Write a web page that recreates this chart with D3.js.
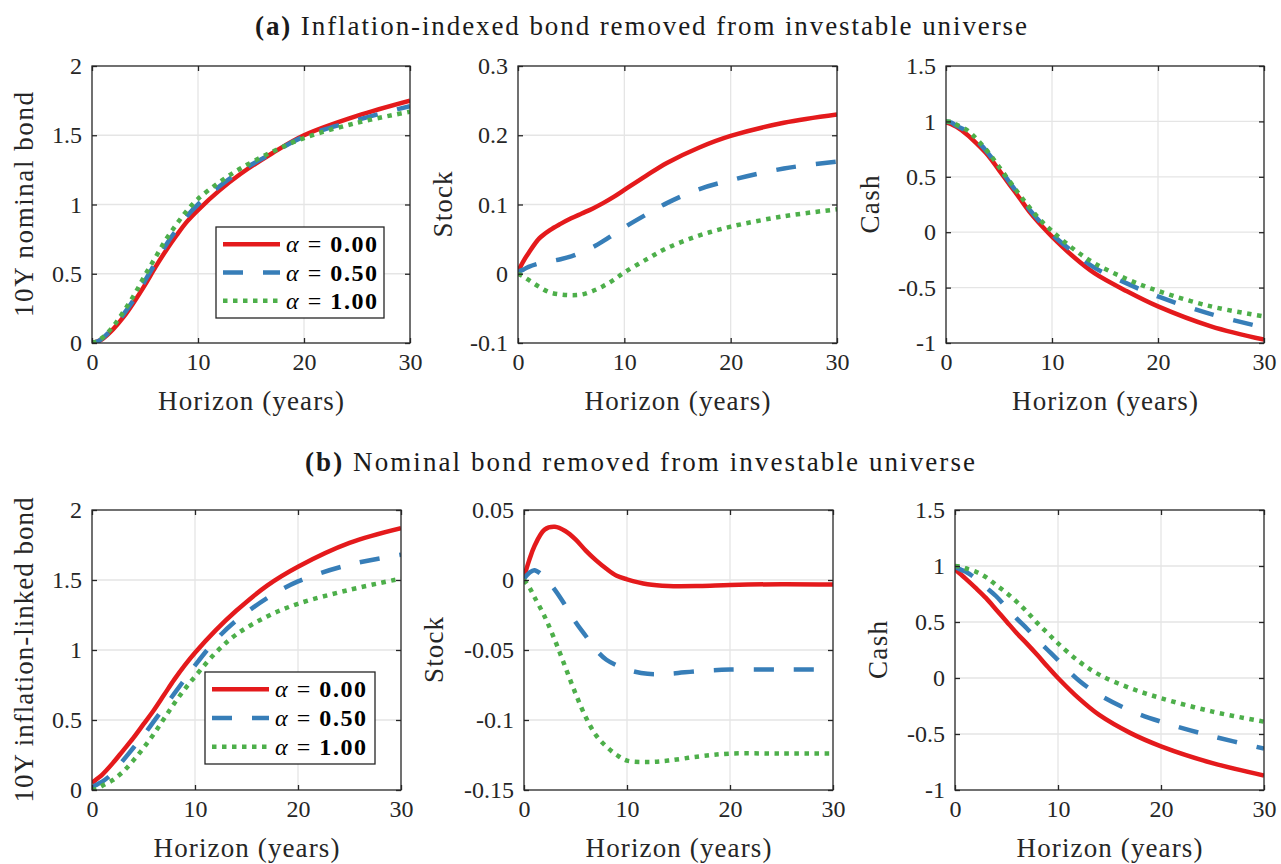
<!DOCTYPE html>
<html><head><meta charset="utf-8">
<script src="https://cdn.jsdelivr.net/npm/d3@7"></script>
<style>
html,body{margin:0;padding:0;background:#fff;}
svg{display:block;font-family:"Liberation Serif","Times New Roman",serif;}
</style></head>
<body><svg id="chart" width="1281" height="864"></svg>
<script>
// ---------- data ----------
const horizon = [0,0.5,1,2,3,4,5,6,7,8,9,10,12,14,17,20,25,30];
const alphaLabels = ["0.00","0.50","1.00"];
const xTicks = [0,10,20,30];

// (a) inflation-indexed bond removed
const aBondRed   = [0,0.01,0.03,0.10,0.19,0.30,0.42,0.55,0.67,0.78,0.88,0.96,1.10,1.22,1.37,1.50,1.64,1.75];
const aBondBlue  = [0,0.01,0.035,0.11,0.21,0.32,0.45,0.58,0.71,0.82,0.92,1.00,1.13,1.24,1.37,1.49,1.61,1.71];
const aBondGreen = [0,0.012,0.04,0.12,0.23,0.35,0.49,0.62,0.75,0.86,0.96,1.04,1.16,1.26,1.38,1.48,1.59,1.67];

const aStockRed   = [0.003,0.018,0.030,0.051,0.063,0.072,0.080,0.087,0.094,0.102,0.111,0.121,0.141,0.160,0.182,0.199,0.218,0.230];
const aStockBlue  = [0.003,0.006,0.010,0.015,0.018,0.021,0.025,0.031,0.038,0.047,0.057,0.067,0.085,0.102,0.122,0.135,0.152,0.162];
const aStockGreen = [0,-0.004,-0.009,-0.019,-0.027,-0.030,-0.031,-0.030,-0.025,-0.018,-0.009,0.002,0.020,0.037,0.055,0.068,0.083,0.093];

const aCashRed   = [0.99,0.975,0.95,0.88,0.79,0.69,0.56,0.43,0.30,0.17,0.06,-0.04,-0.22,-0.37,-0.53,-0.67,-0.85,-0.97];
const aCashBlue  = [1.0,0.99,0.96,0.91,0.82,0.71,0.58,0.45,0.32,0.19,0.08,-0.02,-0.18,-0.32,-0.46,-0.58,-0.74,-0.86];
const aCashGreen = [1.0,0.995,0.97,0.92,0.83,0.72,0.59,0.46,0.33,0.21,0.10,0.01,-0.15,-0.28,-0.42,-0.53,-0.67,-0.76];

// (b) nominal bond removed
const bBondRed   = [0.05,0.08,0.11,0.19,0.28,0.37,0.47,0.57,0.68,0.79,0.89,0.98,1.14,1.28,1.46,1.595,1.765,1.87];
const bBondBlue  = [0.02,0.04,0.06,0.12,0.21,0.30,0.39,0.49,0.59,0.69,0.79,0.89,1.07,1.21,1.37,1.49,1.61,1.68];
const bBondGreen = [0,0.01,0.03,0.07,0.13,0.21,0.30,0.40,0.51,0.62,0.72,0.81,0.98,1.11,1.24,1.33,1.43,1.51];

const bStockRed   = [0.002,0.014,0.024,0.036,0.038,0.035,0.029,0.021,0.014,0.008,0.003,0.0005,-0.003,-0.0043,-0.0043,-0.0036,-0.003,-0.0033];
const bStockBlue  = [0.001,0.005,0.007,0.002,-0.007,-0.018,-0.030,-0.040,-0.050,-0.057,-0.061,-0.064,-0.067,-0.067,-0.065,-0.064,-0.064,-0.064];
const bStockGreen = [0,-0.005,-0.012,-0.026,-0.043,-0.062,-0.081,-0.098,-0.111,-0.119,-0.125,-0.129,-0.130,-0.129,-0.126,-0.124,-0.124,-0.124];

const bCashRed   = [0.97,0.93,0.89,0.805,0.715,0.61,0.505,0.40,0.305,0.205,0.10,0.0,-0.18,-0.33,-0.49,-0.61,-0.76,-0.87];
const bCashBlue  = [0.99,0.97,0.95,0.89,0.81,0.73,0.63,0.53,0.44,0.34,0.25,0.16,-0.02,-0.15,-0.29,-0.39,-0.52,-0.63];
const bCashGreen = [1.0,0.995,0.98,0.95,0.90,0.83,0.76,0.68,0.59,0.49,0.40,0.31,0.15,0.03,-0.09,-0.18,-0.30,-0.39];

const bondTicks  = [0,0.5,1,1.5,2];
const aStockTicks = [-0.1,0,0.1,0.2,0.3];
const bStockTicks = [-0.15,-0.1,-0.05,0,0.05];
const cashTicks  = [-1,-0.5,0,0.5,1,1.5];

const titles = [["(a)"," Inflation-indexed bond removed from investable universe"],
                ["(b)"," Nominal bond removed from investable universe"]];

// ---------- styles ----------
const colors = ["#e41a1c","#377eb8","#4daf4a"];
const dashes = [null,"20,20","4.5,5.5"];

const panels = [
  {box:[92,410,66,343], dom:[0,2], ticks:bondTicks, label:"10Y nominal bond", lx:33, lw:225, series:[aBondRed,aBondBlue,aBondGreen], legend:{x:216,y:227,w:168,h:91}},
  {box:[518,837,66,343], dom:[-0.1,0.3], ticks:aStockTicks, label:"Stock", lx:452, lw:66, series:[aStockRed,aStockBlue,aStockGreen]},
  {box:[946,1264,66,343], dom:[-1,1.5], ticks:cashTicks, label:"Cash", lx:879, lw:58, series:[aCashRed,aCashBlue,aCashGreen]},
  {box:[92,401,510,790], dom:[0,2], ticks:bondTicks, label:"10Y inflation-linked bond", lx:33, lw:305, series:[bBondRed,bBondBlue,bBondGreen], legend:{x:205,y:672,w:170,h:92}},
  {box:[524,833,510,790], dom:[-0.15,0.05], ticks:bStockTicks, label:"Stock", lx:443, lw:66, series:[bStockRed,bStockBlue,bStockGreen]},
  {box:[955,1264,510,790], dom:[-1,1.5], ticks:cashTicks, label:"Cash", lx:887, lw:58, series:[bCashRed,bCashBlue,bCashGreen]}
];

const svg = d3.select("#chart");
const fmt = d => String(+d.toFixed(4));

// titles
[[641,35,772],[640,471,670]].forEach((p,i)=>{
  const t = svg.append("text").attr("x",p[0]).attr("y",p[1]).attr("text-anchor","middle")
    .attr("font-size",27).attr("fill","#1a1a1a")
    .attr("textLength",p[2]).attr("lengthAdjust","spacing");
  t.append("tspan").attr("font-weight","bold").text(titles[i][0]);
  t.append("tspan").text(titles[i][1]);
});

panels.forEach((P,pi)=>{
  const [x0,x1,y0,y1] = P.box;
  const x = d3.scaleLinear().domain([0,30]).range([x0,x1]);
  const y = d3.scaleLinear().domain(P.dom).range([y1,y0]);
  const g = svg.append("g");
  const clipId = "clip"+pi;
  svg.append("clipPath").attr("id",clipId).append("rect")
    .attr("x",x0).attr("y",y0).attr("width",x1-x0).attr("height",y1-y0);

  // grid
  g.append("g").selectAll("line").data(xTicks.slice(1,-1)).join("line")
    .attr("x1",d=>x(d)).attr("x2",d=>x(d)).attr("y1",y0).attr("y2",y1)
    .attr("stroke","#e5e5e5").attr("stroke-width",1.3);
  g.append("g").selectAll("line").data(P.ticks.slice(1,-1)).join("line")
    .attr("y1",d=>y(d)).attr("y2",d=>y(d)).attr("x1",x0).attr("x2",x1)
    .attr("stroke","#e5e5e5").attr("stroke-width",1.3);

  // lines
  const line = d3.line().x((d,i)=>x(horizon[i])).y(d=>y(d)).curve(d3.curveCatmullRom.alpha(0.5));
  const lg = g.append("g").attr("clip-path",`url(#${clipId})`);
  P.series.forEach((s,si)=>{
    lg.append("path").datum(s).attr("d",line).attr("fill","none")
      .attr("stroke",colors[si]).attr("stroke-width",4.5)
      .attr("stroke-dasharray",dashes[si]);
  });

  // axes (ticks inward)
  const axL = d3.axisLeft(y).tickValues(P.ticks).tickFormat(fmt).tickSize(-5).tickPadding(10);
  const axR = d3.axisRight(y).tickValues(P.ticks).tickFormat("").tickSize(-5);
  const axB = d3.axisBottom(x).tickValues(xTicks).tickFormat(fmt).tickSize(-5).tickPadding(10);
  const axT = d3.axisTop(x).tickValues(xTicks).tickFormat("").tickSize(-5);
  const style = sel => {
    sel.selectAll("path").attr("stroke","#262626").attr("stroke-width",1.3);
    sel.selectAll("line").attr("stroke","#262626").attr("stroke-width",1.3);
    sel.selectAll("text").attr("font-size",24).attr("fill","#262626")
      .attr("font-family","'Liberation Serif',serif");
  };
  g.append("g").attr("transform",`translate(${x0},0)`).call(axL).call(style);
  g.append("g").attr("transform",`translate(${x1},0)`).call(axR).call(style);
  g.append("g").attr("transform",`translate(0,${y1})`).call(axB).call(style);
  g.append("g").attr("transform",`translate(0,${y0})`).call(axT).call(style);
  g.selectAll(".domain").attr("d",null);
  g.append("rect").attr("x",x0).attr("y",y0).attr("width",x1-x0).attr("height",y1-y0)
    .attr("fill","none").attr("stroke","#262626").attr("stroke-width",1.3);

  // labels
  g.append("text").attr("x",(x0+x1)/2).attr("y",y1+67).attr("text-anchor","middle")
    .attr("font-size",27).attr("fill","#262626")
    .attr("textLength",186).attr("lengthAdjust","spacing").text("Horizon (years)");
  g.append("text").attr("transform",`translate(${P.lx},${(y0+y1)/2}) rotate(-90)`)
    .attr("text-anchor","middle").attr("font-size",27).attr("fill","#262626")
    .attr("textLength",P.lw).attr("lengthAdjust","spacing").text(P.label);

  // legend
  if (P.legend){
    const L = P.legend;
    const lgd = g.append("g");
    lgd.append("rect").attr("x",L.x).attr("y",L.y).attr("width",L.w).attr("height",L.h)
      .attr("fill","#fff").attr("stroke","#262626").attr("stroke-width",1.3);
    const rowH = (L.h-6)/3;
    alphaLabels.forEach((a,i)=>{
      const cy = L.y + 3 + rowH*(i+0.5);
      lgd.append("line").attr("x1",L.x+7).attr("x2",L.x+64).attr("y1",cy).attr("y2",cy)
        .attr("stroke",colors[i]).attr("stroke-width",4.5).attr("stroke-dasharray",dashes[i]);
      const t = lgd.append("text").attr("x",L.x+70).attr("y",cy+8).attr("font-size",24).attr("fill","#000")
        .attr("textLength",91).attr("lengthAdjust","spacing");
      t.append("tspan").attr("font-style","italic").text("α");
      t.append("tspan").text(" = ");
      t.append("tspan").attr("font-weight","bold").text(a);
    });
  }
});
</script></body></html>
